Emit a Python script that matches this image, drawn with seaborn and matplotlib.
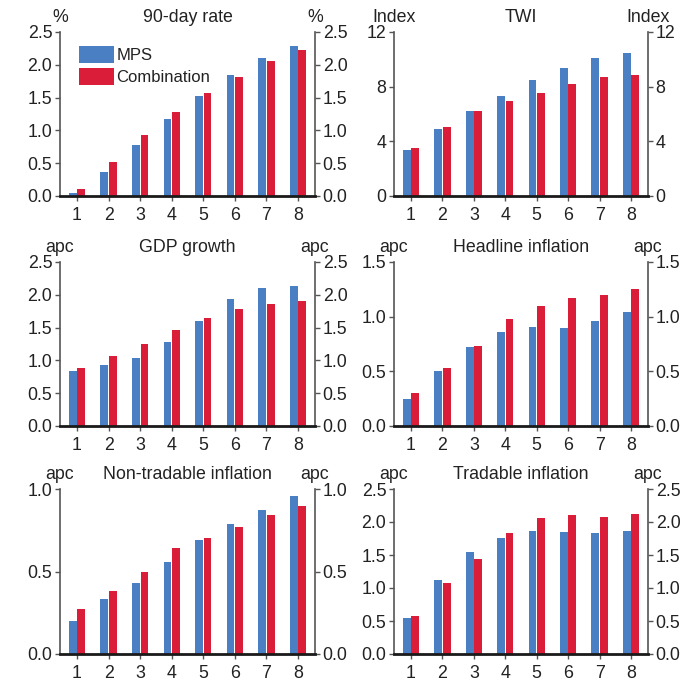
import matplotlib
matplotlib.use("Agg")
import matplotlib.pyplot as plt
import pandas as pd
import seaborn as sns
from matplotlib.patches import Patch

sns.set_theme(style="white")
plt.rcParams['font.family'] = ['Liberation Sans', 'DejaVu Sans']

# Quarters after the shock
quarters = [1, 2, 3, 4, 5, 6, 7, 8]
series_names = ["MPS", "Combination"]

rate_mps = [0.05, 0.37, 0.78, 1.17, 1.53, 1.85, 2.11, 2.29]
rate_comb = [0.11, 0.52, 0.93, 1.28, 1.57, 1.82, 2.06, 2.23]

twi_mps = [3.36, 4.89, 6.20, 7.30, 8.47, 9.34, 10.07, 10.50]
twi_comb = [3.53, 5.06, 6.20, 6.96, 7.52, 8.18, 8.69, 8.83]

gdp_mps = [0.84, 0.93, 1.03, 1.28, 1.60, 1.93, 2.11, 2.13]
gdp_comb = [0.88, 1.06, 1.25, 1.46, 1.64, 1.78, 1.86, 1.90]

headline_mps = [0.25, 0.50, 0.72, 0.86, 0.91, 0.90, 0.96, 1.04]
headline_comb = [0.30, 0.53, 0.73, 0.98, 1.10, 1.17, 1.20, 1.25]

nontradable_mps = [0.20, 0.335, 0.43, 0.56, 0.69, 0.79, 0.875, 0.955]
nontradable_comb = [0.27, 0.38, 0.50, 0.645, 0.705, 0.77, 0.84, 0.90]

tradable_mps = [0.54, 1.12, 1.54, 1.76, 1.86, 1.85, 1.83, 1.86]
tradable_comb = [0.58, 1.07, 1.44, 1.83, 2.06, 2.11, 2.08, 2.12]

titles = ["90-day rate", "TWI", "GDP growth", "Headline inflation",
          "Non-tradable inflation", "Tradable inflation"]
units = ["%", "Index", "apc", "apc", "apc", "apc"]
y_ticks = [[0.0, 0.5, 1.0, 1.5, 2.0, 2.5], [0, 4, 8, 12],
           [0.0, 0.5, 1.0, 1.5, 2.0, 2.5], [0.0, 0.5, 1.0, 1.5],
           [0.0, 0.5, 1.0], [0.0, 0.5, 1.0, 1.5, 2.0, 2.5]]
tick_fmt = ["{:.1f}", "{:.0f}", "{:.1f}", "{:.1f}", "{:.1f}", "{:.1f}"]
values = [(rate_mps, rate_comb), (twi_mps, twi_comb), (gdp_mps, gdp_comb),
          (headline_mps, headline_comb), (nontradable_mps, nontradable_comb),
          (tradable_mps, tradable_comb)]

BLUE = "#4A7FC3"
RED = "#DA1E3A"
palette = {"MPS": BLUE, "Combination": RED}
TEXT = "#222222"

W, H = 691, 681
fig = plt.figure(figsize=(W / 100, H / 100), dpi=100)

# panel frames in pixels: (left, right) per column, (top, bottom) per row
cols = [(60, 315), (394, 648)]
rows = [(32, 196), (262, 426), (489, 654)]

for i in range(6):
    l, r = cols[i % 2]
    t, b = rows[i // 2]
    ax = fig.add_axes([l / W, 1 - b / H, (r - l) / W, (b - t) / H])
    mps, comb = values[i]
    df = pd.DataFrame({
        "Quarter": quarters * 2,
        "Value": list(mps) + list(comb),
        "Series": ["MPS"] * len(quarters) + ["Combination"] * len(quarters),
    })
    sns.barplot(data=df, x="Quarter", y="Value", hue="Series",
                hue_order=series_names, palette=palette, saturation=1,
                width=0.54, gap=0.08, errorbar=None, linewidth=0,
                legend=False, ax=ax)

    ticks = y_ticks[i]
    ax.set_ylim(ticks[0], ticks[-1])
    ax.set_yticks(ticks)
    ax.set_yticklabels([tick_fmt[i].format(v) for v in ticks])
    ax.set_xlim(-0.54, len(quarters) - 0.46)
    ax.set_xlabel("")
    ax.set_ylabel("")

    ax.spines["top"].set_visible(False)
    for side in ("left", "right"):
        ax.spines[side].set_visible(True)
        ax.spines[side].set_color("#555555")
        ax.spines[side].set_linewidth(1.2)
    ax.spines["bottom"].set_color("#1a1a1a")
    ax.spines["bottom"].set_linewidth(2.0)

    ax.tick_params(axis="y", which="both", left=True, right=True,
                   labelleft=True, labelright=True, direction="out",
                   length=3.5, width=1.0, color="#555555", pad=2,
                   labelsize=12.8, labelcolor=TEXT)
    ax.tick_params(axis="x", bottom=True, direction="out", length=3.5,
                   width=1.0, color="#555555", pad=4.5, labelsize=12.8,
                   labelcolor=TEXT)

    ax.annotate(titles[i], xy=(0.5, 1), xycoords="axes fraction",
                xytext=(0, 7.5), textcoords="offset points", ha="center",
                va="baseline", fontsize=12.8, color=TEXT)
    for xf in (0, 1):
        ax.annotate(units[i], xy=(xf, 1), xycoords="axes fraction",
                    xytext=(0, 7.5), textcoords="offset points", ha="center",
                    va="baseline", fontsize=12.8, color=TEXT)

    if i == 0:
        handles = [Patch(facecolor=palette[n], edgecolor="none", label=n)
                   for n in series_names]
        ax.legend(handles=handles, loc="upper left",
                  bbox_to_anchor=(0.075, 0.915), frameon=False,
                  fontsize=12, handlelength=2.1, handleheight=1.2,
                  handletextpad=0.12, labelspacing=0.3, borderpad=0,
                  borderaxespad=0, labelcolor=TEXT)

fig.savefig("out.png", dpi=100)
